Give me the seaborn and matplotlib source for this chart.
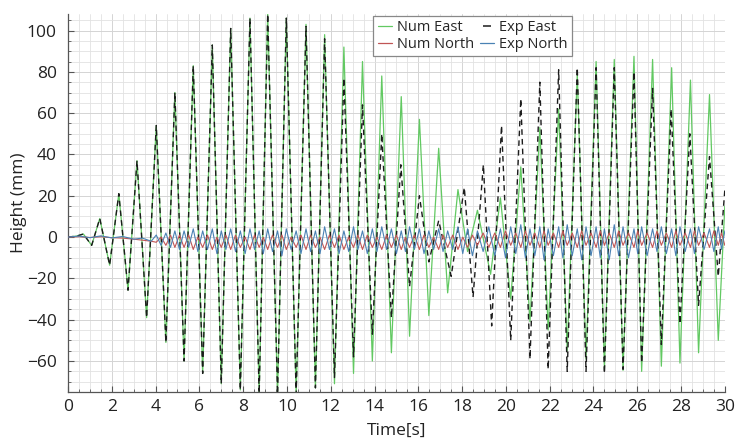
import matplotlib
matplotlib.use("Agg")
import matplotlib.pyplot as plt
from matplotlib.lines import Line2D
from matplotlib.ticker import MultipleLocator
import seaborn as sns

# Numerical east displacement: turning points (time in s, height in mm)
num_east_t = [0.0, 0.4, 0.7, 1.08, 1.45, 1.9, 2.32, 2.74, 3.15, 3.59,
              4.03, 4.47, 4.88, 5.3, 5.72, 6.15, 6.59, 7.0, 7.43, 7.87,
              8.31, 8.73, 9.12, 9.57, 9.97, 10.42, 10.87, 11.3, 11.72, 12.17,
              12.6, 13.04, 13.45, 13.9, 14.33, 14.77, 15.22, 15.6, 16.05, 16.48,
              16.93, 17.34, 17.81, 18.25, 18.7, 19.3, 19.75, 20.22, 20.68, 21.1,
              21.55, 21.93, 22.41, 22.8, 23.26, 23.66, 24.12, 24.5, 24.95, 25.35,
              25.85, 26.2, 26.7, 27.1, 27.57, 27.95, 28.43, 28.8, 29.3, 29.7,
              30.0]
num_east_v = [0, 0.5, 1.5, -4, 9, -13.6, 21, -25.7, 37, -39,
              54, -51, 70, -60, 83, -66, 93, -71, 101, -74,
              106, -76, 108, -76, 106, -76, 103, -73, 98, -71,
              92, -66, 85, -60, 78, -56, 68, -48, 57, -38,
              43, -27, 23, -7, 13, -18, 19, -30, 34, -41,
              53, -45, 62, -55, 79, -59, 85, -64, 86, -64.5,
              87.5, -65, 86, -62.5, 82, -61, 76, -56, 69, -50,
              15]

# Measured east displacement: turning points
exp_east_t = [0.0, 0.4, 0.7, 1.08, 1.45, 1.9, 2.32, 2.74, 3.15, 3.59,
              4.03, 4.47, 4.88, 5.3, 5.72, 6.15, 6.59, 7.0, 7.43, 7.87,
              8.31, 8.73, 9.12, 9.57, 9.97, 10.42, 10.87, 11.3, 11.72, 12.17,
              12.6, 13.04, 13.45, 13.9, 14.33, 14.77, 15.2, 15.6, 16.05, 16.48,
              16.93, 17.5, 18.1, 18.5, 18.97, 19.35, 19.8, 20.22, 20.68, 21.1,
              21.55, 21.93, 22.41, 22.8, 23.26, 23.66, 24.12, 24.5, 24.95, 25.35,
              25.85, 26.2, 26.7, 27.1, 27.55, 27.95, 28.4, 28.8, 29.3, 29.7,
              30.0]
exp_east_v = [0, 0.5, 1.5, -4, 9, -13.6, 21, -25.7, 37, -39,
              54, -51, 70, -60, 83, -66, 93, -71, 101, -74,
              106, -76, 108, -76, 106, -76, 102, -73, 96, -68,
              77, -58, 64, -47, 50, -39, 35, -24, 20, -12,
              8, -19, 24, -29, 35, -43, 54, -50, 67, -59,
              75, -64, 81, -65, 82, -65, 82, -66, 82, -64,
              80, -61, 72, -52, 62, -42, 50, -33, 39, -19,
              23]

# North displacement turning points (shared time base)
north_t = [0.0, 0.5, 1.0, 1.5, 2.0, 2.5, 3.0, 3.4, 3.8, 4.03,
           4.25, 4.47, 4.68, 4.88, 5.09, 5.30, 5.51, 5.72, 5.93, 6.15,
           6.37, 6.59, 6.80, 7.00, 7.21, 7.43, 7.65, 7.87, 8.09, 8.31,
           8.52, 8.73, 8.92, 9.12, 9.34, 9.57, 9.77, 9.97, 10.19, 10.42,
           10.64, 10.87, 11.08, 11.30, 11.51, 11.72, 11.94, 12.17, 12.38, 12.60,
           12.82, 13.04, 13.24, 13.45, 13.67, 13.90, 14.11, 14.33, 14.55, 14.77,
           15.00, 15.22, 15.41, 15.60, 15.82, 16.05, 16.26, 16.48, 16.70, 16.93,
           17.13, 17.34, 17.57, 17.81, 18.03, 18.25, 18.47, 18.70, 18.96, 19.22,
           19.49, 19.75, 19.98, 20.22, 20.45, 20.68, 20.89, 21.10, 21.32, 21.55,
           21.74, 21.93, 22.17, 22.41, 22.60, 22.80, 23.03, 23.26, 23.46, 23.66,
           23.89, 24.12, 24.31, 24.50, 24.72, 24.95, 25.15, 25.35, 25.60, 25.85,
           26.02, 26.20, 26.45, 26.70, 26.90, 27.10, 27.33, 27.57, 27.76, 27.95,
           28.19, 28.43, 28.61, 28.80, 29.05, 29.30, 29.50, 29.70, 29.85, 30.00]

num_north_v = [0, 0.2, -0.2, 0.2, -0.3, -0.5, -1.0, -1.5, -2.0, -2.5,
               0, -4, 1, -5, 1, -5, 1, -6, 0, -5,
               1, -6, 0, -5, 1, -6, 1, -5, 0, -6,
               1, -5, 0, -6, 1, -5, 1, -6, 0, -5,
               1, -6, 1, -5, 0, -6, 1, -5, 1, -6,
               0, -5, 1, -6, 1, -5, 0, -6, 1, -5,
               1, -6, 0, -5, 1, -6, 1, -5, 0, -6,
               1, -5, 1, -6, 0, -5, 1, -4, 2, -5,
               2, -5, 3, -4, 2, -5, 3, -4, 2, -5,
               3, -4, 2, -5, 3, -4, 2, -5, 3, -4,
               2, -5, 3, -4, 2, -5, 3, -4, 2, -5,
               3, -4, 2, -5, 3, -4, 2, -5, 3, -4,
               2, -5, 3, -4, 2, -5, 3, -4, 2, -4]

exp_north_v = [0, 0.5, -0.3, 0.6, -0.4, 0.3, -1.0, -0.5, -2.0, 1.0,
               -4, 2, -5, 3, -6, 3, -5, 4, -7, 3,
               -6, 4, -8, 3, -6, 4, -7, 3, -8, 4,
               -6, 3, -8, 4, -7, 3, -9, 4, -6, 3,
               -8, 4, -7, 3, -8, 5, -6, 4, -8, 3,
               -7, 5, -6, 3, -8, 4, -7, 5, -6, 4,
               -8, 3, -7, 5, -6, 4, -8, 3, -6, 4,
               -7, 3, -6, 5, -8, 4, -9, 3, -7, 5,
               -9, 4, -10, 5, -8, 6, -10, 4, -9, 5,
               -11, 4, -9, 5, -10, 6, -9, 4, -11, 5,
               -9, 5, -10, 4, -11, 6, -9, 5, -10, 4,
               -8, 5, -9, 4, -7, 5, -8, 4, -9, 5,
               -7, 4, -8, 5, -6, 4, -7, 5, -6, 3]

x_ticks = list(range(0, 31, 2))
y_ticks = [-60, -40, -20, 0, 20, 40, 60, 80, 100]

c_num_east = "#62c962"
c_exp_east = "#1c1c1c"
c_num_north = "#c05555"
c_exp_north = "#4a82b4"

sns.set_theme(style="white")
plt.rcParams["font.family"] = ["Open Sans", "DejaVu Sans"]

fig = plt.figure(figsize=(7.37, 4.42), dpi=100)
ax = fig.add_axes([0.0923, 0.1131, 0.8912, 0.8552])

sns.lineplot(x=num_east_t, y=num_east_v, ax=ax, color=c_num_east,
             linewidth=0.9, estimator=None, sort=False, zorder=3)
sns.lineplot(x=exp_east_t, y=exp_east_v, ax=ax, color=c_exp_east,
             linewidth=1.0, linestyle=(0, (4, 3)), estimator=None,
             sort=False, zorder=4)
sns.lineplot(x=north_t, y=num_north_v, ax=ax, color=c_num_north,
             linewidth=0.8, estimator=None, sort=False, zorder=5)
sns.lineplot(x=north_t, y=exp_north_v, ax=ax, color=c_exp_north,
             linewidth=0.8, estimator=None, sort=False, zorder=6)

ax.set_xlim(0, 30)
ax.set_ylim(-75, 108)
ax.set_xticks(x_ticks)
ax.set_yticks(y_ticks)
ax.xaxis.set_minor_locator(MultipleLocator(0.5))
ax.yaxis.set_minor_locator(MultipleLocator(5))
ax.grid(which="major", color="#d4d4d4", linewidth=0.7)
ax.grid(which="minor", color="#e2e2e2", linewidth=0.6)
ax.set_axisbelow(True)

ax.tick_params(axis="both", which="major", labelsize=12.5, length=4,
               width=0.8, direction="in", color="#555555", pad=5,
               bottom=True, left=True, labelcolor="#222222")
ax.tick_params(axis="y", which="major", pad=8)
ax.tick_params(axis="both", which="minor", length=2.5, width=0.6,
               direction="in", color="#555555", bottom=True, left=True)

for side in ("left", "bottom"):
    ax.spines[side].set_color("#555555")
    ax.spines[side].set_linewidth(0.9)
for side in ("top", "right"):
    ax.spines[side].set_visible(False)

ax.set_xlabel("Time[s]", fontsize=12.5, color="#222222", labelpad=6)
ax.set_ylabel("Height (mm)", fontsize=12.5, color="#222222", labelpad=0)

handles = [
    Line2D([], [], color=c_num_east, linewidth=0.9),
    Line2D([], [], color=c_num_north, linewidth=0.9),
    Line2D([], [], color=c_exp_east, linestyle="", marker="_",
           markersize=6, markeredgewidth=1.1),
    Line2D([], [], color=c_exp_north, linewidth=0.9),
]
labels = ["Num East", "Num North", "Exp East", "Exp North"]
leg = ax.legend(handles, labels, ncol=2, loc="upper left",
                bbox_to_anchor=(0.465, 0.996), fontsize=10.5,
                frameon=True, fancybox=False, framealpha=1,
                edgecolor="#888888", handlelength=1.0, handletextpad=0.3,
                columnspacing=0.4, labelspacing=0.15, borderpad=0.3,
                borderaxespad=0)
leg.get_frame().set_linewidth(0.9)

fig.savefig("out.png", dpi=100)
